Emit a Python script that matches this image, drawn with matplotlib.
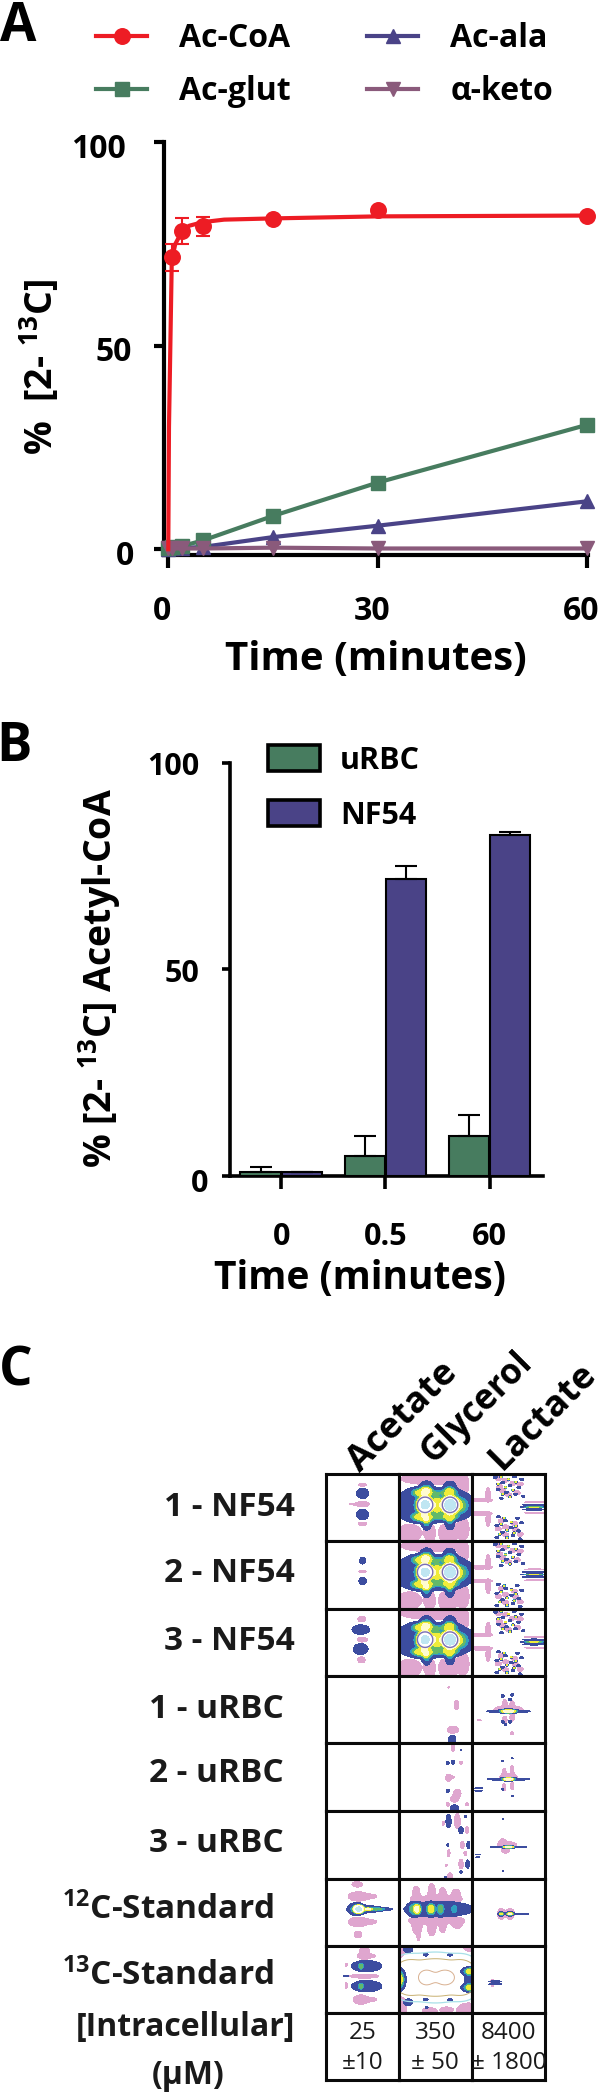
import numpy as np
import matplotlib
matplotlib.use("Agg")
import matplotlib.pyplot as plt
from matplotlib.patches import Patch
from matplotlib.lines import Line2D
from matplotlib.transforms import ScaledTranslation

plt.rcParams['font.family'] = ['Open Sans', 'DejaVu Sans']
plt.rcParams['mathtext.fontset'] = 'custom'
plt.rcParams['mathtext.bf'] = 'Open Sans:bold'
plt.rcParams['mathtext.rm'] = 'Open Sans:bold'
plt.rcParams['mathtext.it'] = 'Open Sans:bold'
plt.rcParams['mathtext.default'] = 'bf'

# ---------- panel A data
time_a = [0, 0.5, 2, 5, 15, 30, 60]
coa_t = [0.5, 2, 5, 15, 30, 60]
coa = [71.7, 78.2, 79.4, 81.2, 83.3, 82.0]
coa_err = [3.2, 3.1, 2.3, 0.5, 0.5, 0.4]
coa_fit_t = [0, 0.1, 0.5, 1, 2, 3, 5, 8, 15, 30, 60]
coa_fit = [0, 30, 71, 75, 78.2, 79.5, 80.4, 81, 81.3, 81.8, 82]
glut = [0.4, 0.5, 0.8, 2.2, 8.2, 16.4, 30.6]
ala = [0.1, 0.2, 0.3, 0.6, 3.0, 5.8, 11.8]
keto = [0.2, 0.2, 0.2, 0.2, 0.4, 0.2, 0.2]

# ---------- panel B data
groups_b = ['0', '0.5', '60']
urbc = [1.0, 4.7, 9.6]
urbc_err = [1.2, 4.8, 5.2]
nf54 = [0.8, 71.8, 82.4]
nf54_err = [0.1, 3.1, 0.9]

# ---------- panel C data
row_labels = ['1 - NF54', '2 - NF54', '3 - NF54', '1 - uRBC', '2 - uRBC', '3 - uRBC',
              '$^{12}$C-Standard', '$^{13}$C-Standard', '[Intracellular]']
col_labels = ['Acetate', 'Glycerol', 'Lactate']
conc_mean = ['25', '350', '8400']
conc_sd = ['±10', '± 50', '± 1800']

# spectral peaks: (u, v, radius_u, radius_v, amplitude)
ace1_main = [(.505, .29, .085, .075, 1), (.505, .605, .085, .075, 1)]
ace1_pink = [(.505, .16, .05, .025, 1), (.505, .45, .09, .04, 1), (.40, .45, .07, .012, 1), (.505, .745, .06, .025, 1)]
ace2_main = [(.505, .29, .04, .05, 1), (.505, .59, .05, .055, 1)]
ace2_pink = [(.505, .45, .05, .012, 1)]
ace3_main = [(.48, .31, .12, .07, 1), (.48, .60, .10, .08, 1)]
ace3_pink = [(.495, .155, .055, .04, 1), (.5, .46, .07, .035, 1), (.49, .76, .05, .045, 1)]
gly_main = [(.40, .47, .50, .24, 1.2), (.80, .47, .22, .16, 1), (.38, .19, .07, .08, 1), (.70, .19, .07, .08, 1),
            (.38, .75, .05, .08, 1), (.70, .75, .05, .08, 1),
            (.33, .27, .15, .06, 1.4), (.68, .27, .13, .05, 1.0), (.33, .65, .15, .06, 1.4), (.68, .65, .13, .05, 1.0),
            (.36, .46, .09, .10, 4.0), (.70, .46, .09, .10, 4.0), (.52, .46, .05, .15, .8), (.86, .47, .05, .08, .2)]
gly_pink = [(.45, .07, .42, .09, 1), (.88, .2, .07, .14, 1), (.15, .88, .16, .13, 1), (.43, .88, .07, .14, 1),
            (.7, .87, .1, .14, 1), (.88, .82, .08, .17, 1), (.6, .88, .05, .1, 1)]
gly_holes = [(.36, .46, .105, .115, 1), (.70, .46, .105, .115, 1)]
lac_main = [(.85, .46, .16, .010, 1), (.85, .53, .16, .010, 1), (.85, .495, .15, .007, 2.0),
            (.32, .05, .025, .016, 1), (.58, .04, .025, .016, 1), (.68, .08, .025, .016, 1), (.42, .13, .025, .016, 1),
            (.52, .17, .025, .016, 1), (.64, .2, .025, .016, 1), (.36, .23, .025, .016, 1), (.47, .27, .025, .016, 1),
            (.6, .3, .025, .016, 1), (.70, .33, .025, .016, 1), (.4, .36, .025, .016, 1), (.36, .64, .025, .016, 1),
            (.62, .66, .025, .016, 1), (.46, .7, .025, .016, 1), (.68, .73, .025, .016, 1), (.34, .77, .025, .016, 1),
            (.54, .8, .025, .016, 1), (.64, .85, .025, .016, 1), (.42, .87, .025, .016, 1), (.56, .92, .025, .016, 1),
            (.34, .95, .025, .016, 1), (.66, .97, .025, .016, 1),
            (.4, .04, .015, .012, 2.2), (.5, .08, .015, .012, 2.2), (.6, .12, .015, .012, 2.2), (.36, .15, .015, .012, 2.2),
            (.46, .2, .015, .012, 2.2), (.56, .24, .015, .012, 2.2), (.42, .3, .015, .012, 2.2), (.52, .34, .015, .012, 2.2),
            (.44, .66, .015, .012, 2.2), (.54, .72, .015, .012, 2.2), (.4, .75, .015, .012, 2.2), (.6, .78, .015, .012, 2.2),
            (.48, .84, .015, .012, 2.2), (.58, .88, .015, .012, 2.2), (.38, .9, .015, .012, 2.2), (.48, .95, .015, .012, 2.2)]
lac_pink = [(.1, .39, .18, .025, 1), (.1, .59, .18, .025, 1), (.22, .30, .03, .10, 1), (.22, .68, .03, .10, 1),
            (.46, .09, .04, .03, 1), (.56, .14, .04, .03, 1), (.38, .19, .04, .03, 1), (.62, .28, .04, .03, 1),
            (.5, .31, .04, .03, 1), (.4, .7, .04, .03, 1), (.58, .74, .04, .03, 1), (.46, .79, .04, .03, 1),
            (.66, .9, .04, .03, 1), (.46, .91, .04, .03, 1), (.86, .42, .14, .008, 1), (.86, .58, .14, .008, 1),
            (.36, .07, .04, .03, 1), (.66, .15, .04, .03, 1), (.42, .25, .04, .03, 1), (.36, .82, .04, .03, 1), (.6, .83, .04, .03, 1)]
gly4_main = [(.73, .95, .05, .07, 1)]
gly4_pink = [(.79, .43, .03, .07, 1), (.74, .8, .08, .05, 1), (.68, .17, .01, .01, 1)]
lac4_main = [(.5, .525, .30, .02, 1), (.5, .525, .09, .03, 2.0), (.42, .3, .02, .02, 1), (.52, .35, .02, .02, 1),
             (.55, .28, .02, .02, 1), (.42, .68, .02, .02, 1), (.52, .68, .02, .02, 1), (.46, .72, .015, .015, 1)]
lac4_pink = [(.5, .5, .2, .06, 1), (.45, .4, .03, .05, 1), (.55, .42, .03, .05, 1), (.45, .65, .03, .05, 1),
             (.55, .62, .03, .05, 1), (.55, .85, .02, .02, 1), (.1, .66, .03, .008, 1)]
gly5_main = [(.67, .29, .02, .02, 1), (.74, .28, .02, .03, 1), (.85, .1, .008, .01, 1), (.67, .7, .02, .025, 1), (.76, .96, .06, .05, 1)]
gly5_pink = [(.74, .06, .02, .06, 1), (.68, .51, .04, .05, 1), (.72, .5, .04, .015, 1), (.80, .74, .05, .06, 1),
             (.76, .82, .05, .05, 1), (.67, .9, .02, .03, 1), (.93, .9, .02, .02, 1), (.85, .29, .02, .02, 1)]
lac5_main = [(.5, .53, .29, .018, 1), (.5, .53, .07, .025, 2.0), (.09, .66, .05, .008, 1), (.09, .70, .05, .008, 1),
             (.42, .26, .012, .012, 1), (.55, .22, .012, .012, 1), (.42, .68, .012, .012, 1), (.55, .78, .012, .012, 1)]
lac5_pink = [(.5, .5, .12, .05, 1), (.44, .42, .025, .05, 1), (.55, .4, .025, .07, 1), (.44, .65, .025, .05, 1), (.55, .63, .02, .06, 1)]
gly6_main = [(.68, .15, .035, .1, 1), (.85, .28, .03, .05, 1), (.91, .08, .015, .02, 1), (.67, .5, .015, .02, 1),
             (.95, .5, .02, .05, 1), (.94, .78, .025, .06, 1), (.85, .9, .015, .02, 1), (.64, .98, .015, .02, 1)]
gly6_pink = [(.8, .15, .04, .11, 1), (.61, .18, .015, .03, 1), (.93, .28, .02, .05, 1), (.68, .62, .02, .05, 1),
             (.87, .5, .025, .05, 1), (.91, .62, .02, .03, 1), (.85, .78, .03, .07, 1), (.65, .8, .01, .015, 1), (.7, .96, .03, .05, 1)]
lac6_main = [(.5, .53, .25, .012, 1), (.5, .53, .06, .02, 2.0), (.08, .64, .03, .007, 1), (.08, .68, .03, .007, 1),
             (.42, .12, .008, .012, 1), (.42, .88, .008, .01, 1)]
lac6_pink = [(.48, .5, .13, .05, 1), (.42, .45, .04, .04, 1), (.46, .58, .05, .04, 1)]
ace12_main = [(.42, .45, .11, .09, 1.2), (.58, .45, .2, .05, 1), (.75, .45, .16, .02, 1), (.45, .45, .05, .05, 3.5), (.58, .45, .04, .02, 1.0)]
ace12_pink = [(.43, .08, .07, .04, 1), (.45, .26, .14, .07, 1), (.6, .26, .1, .03, 1), (.45, .64, .14, .07, 1), (.6, .64, .1, .03, 1), (.44, .83, .05, .05, 1)]
gly12_main = [(.55, .45, .46, .11, 1.1), (.2, .45, .06, .1, 1), (.26, .45, .04, .08, 1.2), (.44, .45, .045, .08, 1.2),
              (.57, .45, .04, .08, .7), (.76, .45, .035, .07, .5)]
gly12_pink = [(.24, .22, .05, .11, 1), (.45, .2, .05, .13, 1), (.6, .23, .05, .1, 1), (.78, .24, .06, .09, 1), (.5, .3, .34, .05, 1),
              (.25, .68, .07, .15, 1), (.27, .8, .02, .12, 1), (.45, .7, .06, .15, 1), (.6, .68, .05, .12, 1), (.8, .66, .07, .08, 1), (.5, .62, .35, .05, 1)]
lac12_main = [(.58, .52, .2, .012, 1), (.4, .52, .03, .03, 1.7), (.52, .52, .04, .03, 1.7)]
lac12_pink = [(.4, .52, .05, .08, 1), (.52, .52, .06, .08, 1)]
ace13_main = [(.56, .30, .20, .08, 1.1), (.56, .6, .2, .08, 1.1), (.48, .3, .03, .05, .7), (.48, .6, .03, .05, .7), (.28, .45, .035, .012, 1)]
ace13_pink = [(.53, .1, .07, .1, 1), (.56, .15, .12, .03, 1), (.53, .45, .2, .03, 1), (.48, .8, .1, .07, 1), (.6, .8, .1, .03, 1), (.28, .28, .015, .02, 1), (.28, .59, .015, .04, 1)]
gly13_main = [(.0, .5, .08, .14, 2.2), (1.0, .38, .12, .06, 2.2), (1.0, .62, .12, .06, 2.2), (.94, .5, .04, .05, 1),
              (.13, .05, .06, .05, 1), (.13, .84, .06, .05, 1), (.38, .92, .02, .02, 1), (.37, .13, .03, .02, 1), (.7, .13, .03, .02, 1),
              (.37, .8, .03, .02, 1), (.7, .8, .03, .02, 1)]
gly13_pink = [(.95, .97, .16, .12, 1), (.03, .92, .08, .16, 1), (.42, .97, .1, .05, 1), (.02, .05, .06, .12, 1), (.97, .03, .08, .05, 1), (.65, .95, .08, .04, 1)]
gly13_tan = [(.38, .47, .11, .11, 1), (.63, .47, .13, .11, 1)]
gly13_outline = [(.5, .47, .5, .28, 1), (.12, .47, .15, .2, 1), (.88, .47, .15, .2, 1)]
gly13_cyan = [(.5, .47, .6, .38, 1), (.1, .47, .18, .25, 1), (.9, .47, .18, .25, 1)]
lac13_main = [(.32, .53, .09, .01, 1), (.32, .57, .09, .01, 1)]
lac13_pink = [(.28, .55, .025, .05, 1)]

W, H = 600, 2095
fig = plt.figure(figsize=(W / 100, H / 100), dpi=100, facecolor='white')
BLACK = '#000000'
RED, GREEN, PURPLE, MAUVE = '#ed1c24', '#477c5f', '#4a4387', '#8a5a7b'


def axes_px(l, t, r, b):
    return fig.add_axes([l / W, 1 - b / H, (r - l) / W, (b - t) / H])


def T(x, y, s, **kw):
    kw.setdefault('ha', 'center')
    kw.setdefault('va', 'center')
    kw.setdefault('fontweight', 'bold')
    kw.setdefault('color', '#000000')
    return fig.text(x / W, 1 - y / H, s, **kw)


def shift(labels, offsets_px):
    for lab, (dx, dy) in zip(labels, offsets_px):
        lab.set_transform(lab.get_transform() + ScaledTranslation(dx / 100, -dy / 100, fig.dpi_scale_trans))


# ---------- A
T(18, 27, 'A', fontsize=38, ha='center')
ax = axes_px(164.3, 142.3, 588, 555)
ax.set_xlim(-0.57, 60.1)
ax.set_ylim(-1.4, 100)
for s in ['top', 'right']:
    ax.spines[s].set_visible(False)
for s in ['left', 'bottom']:
    ax.spines[s].set_linewidth(3)
ms, lw = 10.5, 3
ax.plot(time_a, ala, '-^', color=PURPLE, lw=lw, ms=ms, clip_on=False, zorder=3, label='Ac-ala')
ax.plot(time_a, glut, '-s', color=GREEN, lw=lw, ms=ms, clip_on=False, zorder=3.1, label='Ac-glut')
ax.plot(time_a, keto, '-v', color=MAUVE, lw=lw, ms=ms, clip_on=False, zorder=3.2, label='α-keto')
ax.errorbar(coa_t, coa, yerr=coa_err, fmt='o', color=RED, ms=ms + .7, elinewidth=1.5, capsize=4.7, capthick=1.5, clip_on=False, zorder=3.3)
ax.plot(coa_fit_t, coa_fit, '-', color=RED, lw=lw, clip_on=False, zorder=3.4)
ax.set_xticks([0, 30, 60], ['0', '30', '60'])
ax.set_yticks([0, 50, 100], ['0', '50', '100'])
ax.tick_params(axis='y', length=7.5, width=3, pad=16, labelsize=23)
ax.tick_params(axis='x', length=9, width=3, pad=20, labelsize=23)
for lab in ax.get_xticklabels() + ax.get_yticklabels():
    lab.set_fontweight('bold')
shift(ax.get_xticklabels(), [(-6, 0), (-6, 0), (-6, 0)])
shift(ax.get_yticklabels(), [(2, 3), (0, 3), (-6, 3)])
T(376, 660, 'Time (minutes)', fontsize=29)
T(40, 367, '%  [2- $^{13}$C]', fontsize=27, rotation=90)

handles_a = [
    Line2D([], [], color=RED, marker='o', lw=lw, ms=ms + .7),
    Line2D([], [], color=GREEN, marker='s', lw=lw, ms=ms),
    Line2D([], [], color=PURPLE, marker='^', lw=lw, ms=ms),
    Line2D([], [], color=MAUVE, marker='v', lw=lw, ms=ms),
]
ax.legend(handles_a, ['Ac-CoA', 'Ac-glut', 'Ac-ala', 'α-keto'], ncol=2, frameon=False,
          loc='upper left', bbox_to_anchor=((96 - 164.3) / 423.7, 1 + (142.3 - 22) / 412.7),
          borderaxespad=0, borderpad=0, prop={'size': 23, 'weight': 'bold'},
          handlelength=1.6, handletextpad=1.0, columnspacing=2.4, labelspacing=0.62)

# ---------- B
T(14, 747, 'B', fontsize=38)
ax = axes_px(229.6, 762.6, 542.7, 1175.7)
ax.set_xlim(-0.497, 2.51)
ax.set_ylim(0, 100)
for s in ['top', 'right']:
    ax.spines[s].set_visible(False)
for s in ['left', 'bottom']:
    ax.spines[s].set_linewidth(2.6)
pos = np.arange(len(groups_b))
bw = 0.385
ax.bar(pos - 0.2, urbc, bw, color=GREEN, edgecolor=BLACK, linewidth=1.5, yerr=[[0] * 3, urbc_err],
       error_kw=dict(ecolor=BLACK, elinewidth=1.5, capsize=7.6, capthick=1.5), clip_on=False, zorder=3)
ax.bar(pos + 0.2, nf54, bw, color=PURPLE, edgecolor=BLACK, linewidth=1.5, yerr=[[0] * 3, nf54_err],
       error_kw=dict(ecolor=BLACK, elinewidth=1.5, capsize=7.6, capthick=1.5), clip_on=False, zorder=3)
ax.set_xticks(pos, groups_b)
ax.set_yticks([0, 50, 100], ['0', '50', '100'])
ax.tick_params(axis='y', length=5.5, width=2.6, pad=9, labelsize=22)
ax.tick_params(axis='x', length=9, width=2.6, pad=24, labelsize=22)
for lab in ax.get_xticklabels() + ax.get_yticklabels():
    lab.set_fontweight('bold')
shift(ax.get_yticklabels(), [(-1, 5), (-10, 1), (-10, 1)])
T(360, 1279, 'Time (minutes)', fontsize=28)
T(100, 978, '% [2- $^{13}$C] Acetyl-CoA', fontsize=27, rotation=90)
fs_b = 22
handles_b = [Patch(facecolor=GREEN, edgecolor=BLACK, linewidth=2.6),
             Patch(facecolor=PURPLE, edgecolor=BLACK, linewidth=2.6)]
ax.legend(handles_b, ['uRBC', 'NF54'], frameon=False, loc='upper left',
          bbox_to_anchor=((268 - 229.6) / 313.1, 1 + (762.6 - 745) / 413),
          borderaxespad=0, borderpad=0, prop={'size': fs_b, 'weight': 'bold'},
          handlelength=52 / (fs_b * 1.389), handleheight=29 / (fs_b * 1.389),
          handletextpad=0.65, labelspacing=0.8)

# ---------- C
T(16, 1371, 'C', fontsize=38)
row_y = [1508, 1574, 1642, 1710, 1774, 1844, 1910, 1976, 2028]
row_x = [295, 295, 295, 284, 284, 284, 274, 274, 295]
row_fs = [24, 24, 24, 24, 24, 24, 24, 24, 23]
for lab, x, y, f in zip(row_labels, row_x, row_y, row_fs):
    T(x, y, lab, ha='right', fontsize=f, color='#1a1a1a')
T(188, 2076, '(µM)', fontsize=23, color='#1a1a1a')
for lab, x, y, f in zip(col_labels, [403, 477, 543], [1417, 1408, 1417], [26, 25, 26]):
    T(x, y, lab, fontsize=f, rotation=45, rotation_mode='anchor')

col_edges = [325.7, 398.7, 472, 545]
row_edges = [1474, 1541, 1608.7, 1676, 1743.3, 1811, 1879, 1946, 2013, 2080]
LEVELS = [.5, 1.3, 1.6, 1.9, 2.4, 3.2, 4.6, 99]
COLORS = ['#3c4da0', '#2f9fc0', '#62b96a', '#f0ec3a', '#fffbd0', '#ffffff', '#bfe6f2']
PINK = '#dfa6cf'
grid_u, grid_v = np.meshgrid(np.linspace(0, 1, 260), np.linspace(0, 1, 240))


def field(peaks):
    out = np.zeros_like(grid_u)
    for u, v, ru, rv, a in peaks:
        out += a * np.exp(-np.log(2) * (((grid_u - u) / ru) ** 2 + ((grid_v - v) / rv) ** 2) ** 1.5)
    return out


cells = [
    [(ace1_main, ace1_pink), (gly_main, gly_pink), (lac_main, lac_pink)],
    [(ace2_main, ace2_pink), (gly_main, gly_pink), (lac_main, lac_pink)],
    [(ace3_main, ace3_pink), (gly_main, gly_pink), (lac_main, lac_pink)],
    [([], []), (gly4_main, gly4_pink), (lac4_main, lac4_pink)],
    [([], []), (gly5_main, gly5_pink), (lac5_main, lac5_pink)],
    [([], []), (gly6_main, gly6_pink), (lac6_main, lac6_pink)],
    [(ace12_main, ace12_pink), (gly12_main, gly12_pink), (lac12_main, lac12_pink)],
    [(ace13_main, ace13_pink), (gly13_main, gly13_pink), (lac13_main, lac13_pink)],
]
for r in range(9):
    for c in range(3):
        a = axes_px(col_edges[c], row_edges[r], col_edges[c + 1], row_edges[r + 1])
        a.set_xlim(0, 1)
        a.set_ylim(1, 0)
        a.set_xticks([])
        a.set_yticks([])
        for s in a.spines.values():
            s.set_linewidth(2.2)
            s.set_color('#0a0a0a')
        if r < 8:
            main, pink = cells[r][c]
            if pink:
                a.contourf(grid_u, grid_v, field(pink), levels=[.5, 99], colors=[PINK])
            if r == 7 and c == 1:
                a.contour(grid_u, grid_v, field(gly13_cyan), levels=[.5], colors=['#a8e0e8'], linewidths=.9)
                a.contour(grid_u, grid_v, field(gly13_outline), levels=[.5], colors=['#c8b070'], linewidths=.7)
                a.contour(grid_u, grid_v, field(gly13_tan), levels=[.5], colors=['#d8b090'], linewidths=.7)
            if main:
                a.contourf(grid_u, grid_v, field(main), levels=LEVELS, colors=COLORS)
            if r < 3 and c == 1:
                a.contour(grid_u, grid_v, field(gly_holes), levels=[.5], colors=['#7a6fb8'], linewidths=1)
        else:
            a.text(.5, .30, conc_mean[c], ha='center', va='center', fontsize=17.5, color='#1a1a1a')
            a.text(.5, .75, conc_sd[c], ha='center', va='center', fontsize=17.5, color='#1a1a1a')

fig.savefig('out.png', dpi=100, facecolor='white')
